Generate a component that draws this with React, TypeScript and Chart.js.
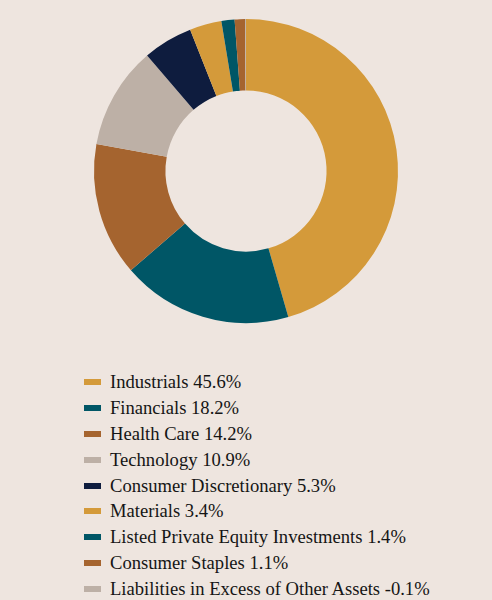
import React, { useEffect, useRef } from "react";
import { Chart, registerables } from "chart.js";

Chart.register(...registerables);

const categories = [
  "Industrials",
  "Financials",
  "Health Care",
  "Technology",
  "Consumer Discretionary",
  "Materials",
  "Listed Private Equity Investments",
  "Consumer Staples",
  "Liabilities in Excess of Other Assets",
];
const values = [45.6, 18.2, 14.2, 10.9, 5.3, 3.4, 1.4, 1.1, -0.1];
const colors = [
  "#D49A3A",
  "#005666",
  "#A5642F",
  "#BDB0A6",
  "#0E1C3E",
  "#D49A3A",
  "#005666",
  "#A5642F",
  "#BDB0A6",
];
const labels = categories.map((c, i) => `${c} ${values[i].toFixed(1)}%`);

const BG = "#EEE5DF";

export default function App() {
  const ref = useRef<HTMLCanvasElement>(null);
  useEffect(() => {
    document.body.style.margin = "0";
    document.body.style.background = BG;
    const chart = new Chart(ref.current!, {
      type: "doughnut",
      data: {
        labels,
        datasets: [
          {
            data: values,
            backgroundColor: colors,
            borderWidth: 0,
          },
        ],
      },
      options: {
        animation: false,
        responsive: false,
        cutout: "53%",
        layout: { padding: 19 },
        plugins: { legend: { display: false }, tooltip: { enabled: false } },
      },
    });
    return () => chart.destroy();
  }, []);
  return (
    <div style={{ width: 492, height: 600, background: BG, position: "relative", overflow: "hidden" }}>
      <canvas ref={ref} width={492} height={342} style={{ display: "block" }} />
      <div style={{ position: "absolute", left: 84, top: 369 }}>
        {labels.map((l, i) => (
          <div
            key={i}
            style={{
              display: "flex",
              alignItems: "center",
              height: 25.9,
              fontFamily: "'Liberation Serif', 'Times New Roman', serif",
              fontSize: 18.6,
              color: "#151515",
              whiteSpace: "nowrap",
            }}
          >
            <span
              style={{
                display: "inline-block",
                width: 17,
                height: 6,
                background: colors[i],
                marginRight: 9,
                flexShrink: 0,
              }}
            />
            <span>{l}</span>
          </div>
        ))}
      </div>
    </div>
  );
}
